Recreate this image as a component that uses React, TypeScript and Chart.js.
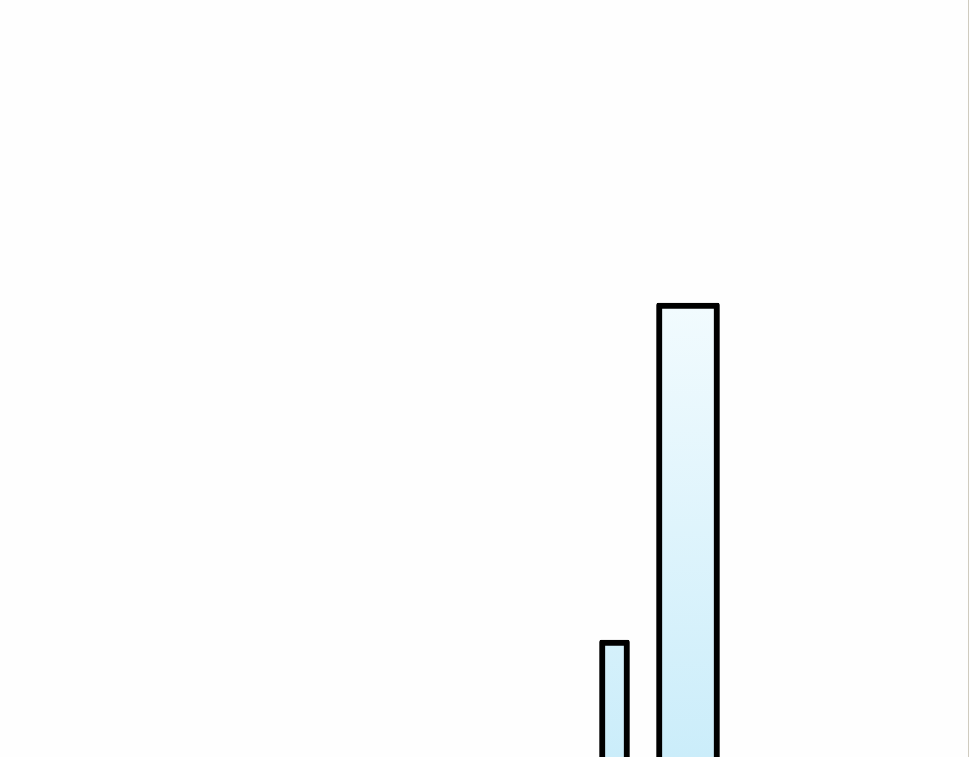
import { useEffect, useRef } from 'react'
import Chart from 'chart.js/auto'

// crop of a larger bar chart: only two bars are in view
const BAR_POSITIONS = [614.5, 688]
const BAR_VALUES = [217, 554]
const BAR_WIDTHS = [30, 63]

const X_RANGE = { min: 0, max: 968 }
const Y_RANGE = { min: 100, max: 857 }

export default function App() {
  const canvasRef = useRef<HTMLCanvasElement>(null)

  useEffect(() => {
    document.body.style.margin = '0'
    document.body.style.background = '#fefefe'
    if (!canvasRef.current) return

    const chart = new Chart(canvasRef.current, {
      type: 'bar',
      data: {
        datasets: BAR_POSITIONS.map((x, i) => ({
          data: [{ x, y: BAR_VALUES[i] }],
          barThickness: BAR_WIDTHS[i],
          borderColor: '#000000',
          borderWidth: { top: 6, left: 6, right: 6, bottom: 0 },
          borderRadius: 2,
          borderSkipped: 'start',
          backgroundColor: (ctx: any) => {
            const area = ctx.chart.chartArea
            if (!area) return '#d6f1fb'
            const g = ctx.chart.ctx.createLinearGradient(0, 300, 0, area.bottom)
            g.addColorStop(0, '#f2fbfe')
            g.addColorStop(1, '#cbedfa')
            return g
          },
        })),
      },
      options: {
        animation: false,
        responsive: true,
        maintainAspectRatio: false,
        layout: { padding: 0 },
        datasets: { bar: { grouped: false } },
        plugins: { legend: { display: false }, tooltip: { enabled: false } },
        scales: {
          x: { type: 'linear', display: false, offset: false, ...X_RANGE },
          y: { display: false, ...Y_RANGE },
        },
      },
    })

    return () => chart.destroy()
  }, [])

  return (
    <div style={{ width: 970, height: 757, background: '#fefefe' }}>
      <div style={{ width: 968, height: 757, borderRight: '1px solid #cfcbbf', position: 'relative' }}>
        <canvas ref={canvasRef}></canvas>
      </div>
    </div>
  )
}
